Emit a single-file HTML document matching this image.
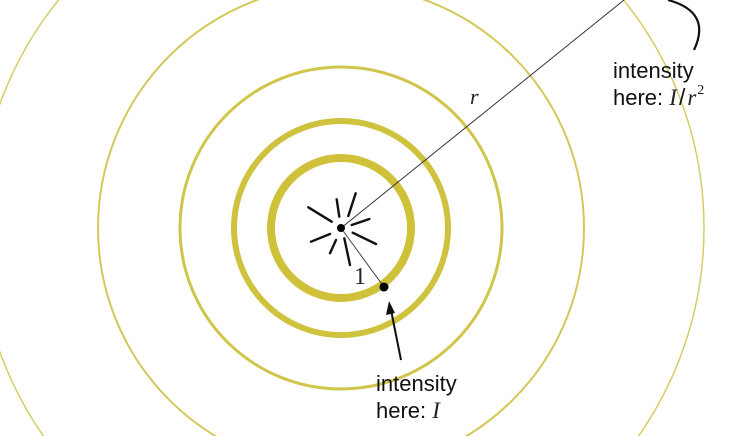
<!DOCTYPE html>
<html><head><meta charset="utf-8"><style>
html,body{margin:0;padding:0;background:#fff;width:732px;height:436px;overflow:hidden}
svg{display:block;position:absolute;left:0;top:0}
.t{font-family:"Liberation Sans",sans-serif;font-size:22px;fill:#111}
.m{font-family:"Liberation Serif",serif;font-style:italic;fill:#222}
</style></head><body>
<svg width="732" height="436" viewBox="0 0 732 436">
<g id="rings"></g>
<line x1="341" y1="228" x2="624" y2="0" stroke="#333" stroke-width="1"/>
<line x1="341" y1="228" x2="384" y2="287" stroke="#444" stroke-width="1"/>
<g stroke="#111" stroke-width="2.4" stroke-linecap="round">
<line x1="308.3" y1="207.3" x2="331.7" y2="221.7"/>
<line x1="336.7" y1="199.3" x2="339.3" y2="216.7"/>
<line x1="355.7" y1="193.3" x2="348.3" y2="216"/>
<line x1="351.7" y1="225" x2="369.3" y2="219"/>
<line x1="352.7" y1="232.7" x2="376" y2="244"/>
<line x1="344.3" y1="238.3" x2="350" y2="265"/>
<line x1="336" y1="240" x2="330" y2="253.3"/>
<line x1="330" y1="234" x2="311" y2="241.7"/>
</g>
<circle cx="341" cy="228" r="4" fill="#000"/>
<circle cx="384" cy="287" r="4.5" fill="#000"/>
<path d="M668 0 Q712 12 694 50" fill="none" stroke="#111" stroke-width="2.2"/>
<line x1="401" y1="360" x2="391" y2="310" stroke="#111" stroke-width="2"/>
<polygon points="389,301 386,315 395,313" fill="#111"/>
<text class="m" x="470" y="104" font-size="22">r</text>
<text x="354" y="284" font-size="24" font-family="Liberation Serif" fill="#222">1</text>
<text class="t" x="613" y="78">intensity</text>
<text class="t" x="613" y="105">here: <tspan class="m" font-size="23">I</tspan><tspan font-size="23" dx="2">/</tspan><tspan class="m" font-size="23" dx="2">r</tspan><tspan font-size="14" dy="-11" dx="1" font-family="Liberation Serif">2</tspan></text>
<text class="t" x="376" y="391">intensity</text>
<text class="t" x="376" y="418">here: <tspan class="m" font-size="23">I</tspan></text>
</svg>
<script>
const ringRadii=[70,107,161,243,363];
const ringWidths=[8,6,3,2,1.5];
const ringColors=["#cfc13a","#cfc23e","#d1c64c","#d3c95a","#d6cd66"];
const g=document.getElementById('rings');
ringRadii.forEach((r,i)=>{
 const c=document.createElementNS('http://www.w3.org/2000/svg','circle');
 
 
 c.setAttribute('cx',341);c.setAttribute('cy',228);c.setAttribute('r',r);
 c.setAttribute('fill','none');c.setAttribute('stroke',ringColors[i]);c.setAttribute('stroke-width',ringWidths[i]);
 g.appendChild(c);
});
</script>
</body></html>
